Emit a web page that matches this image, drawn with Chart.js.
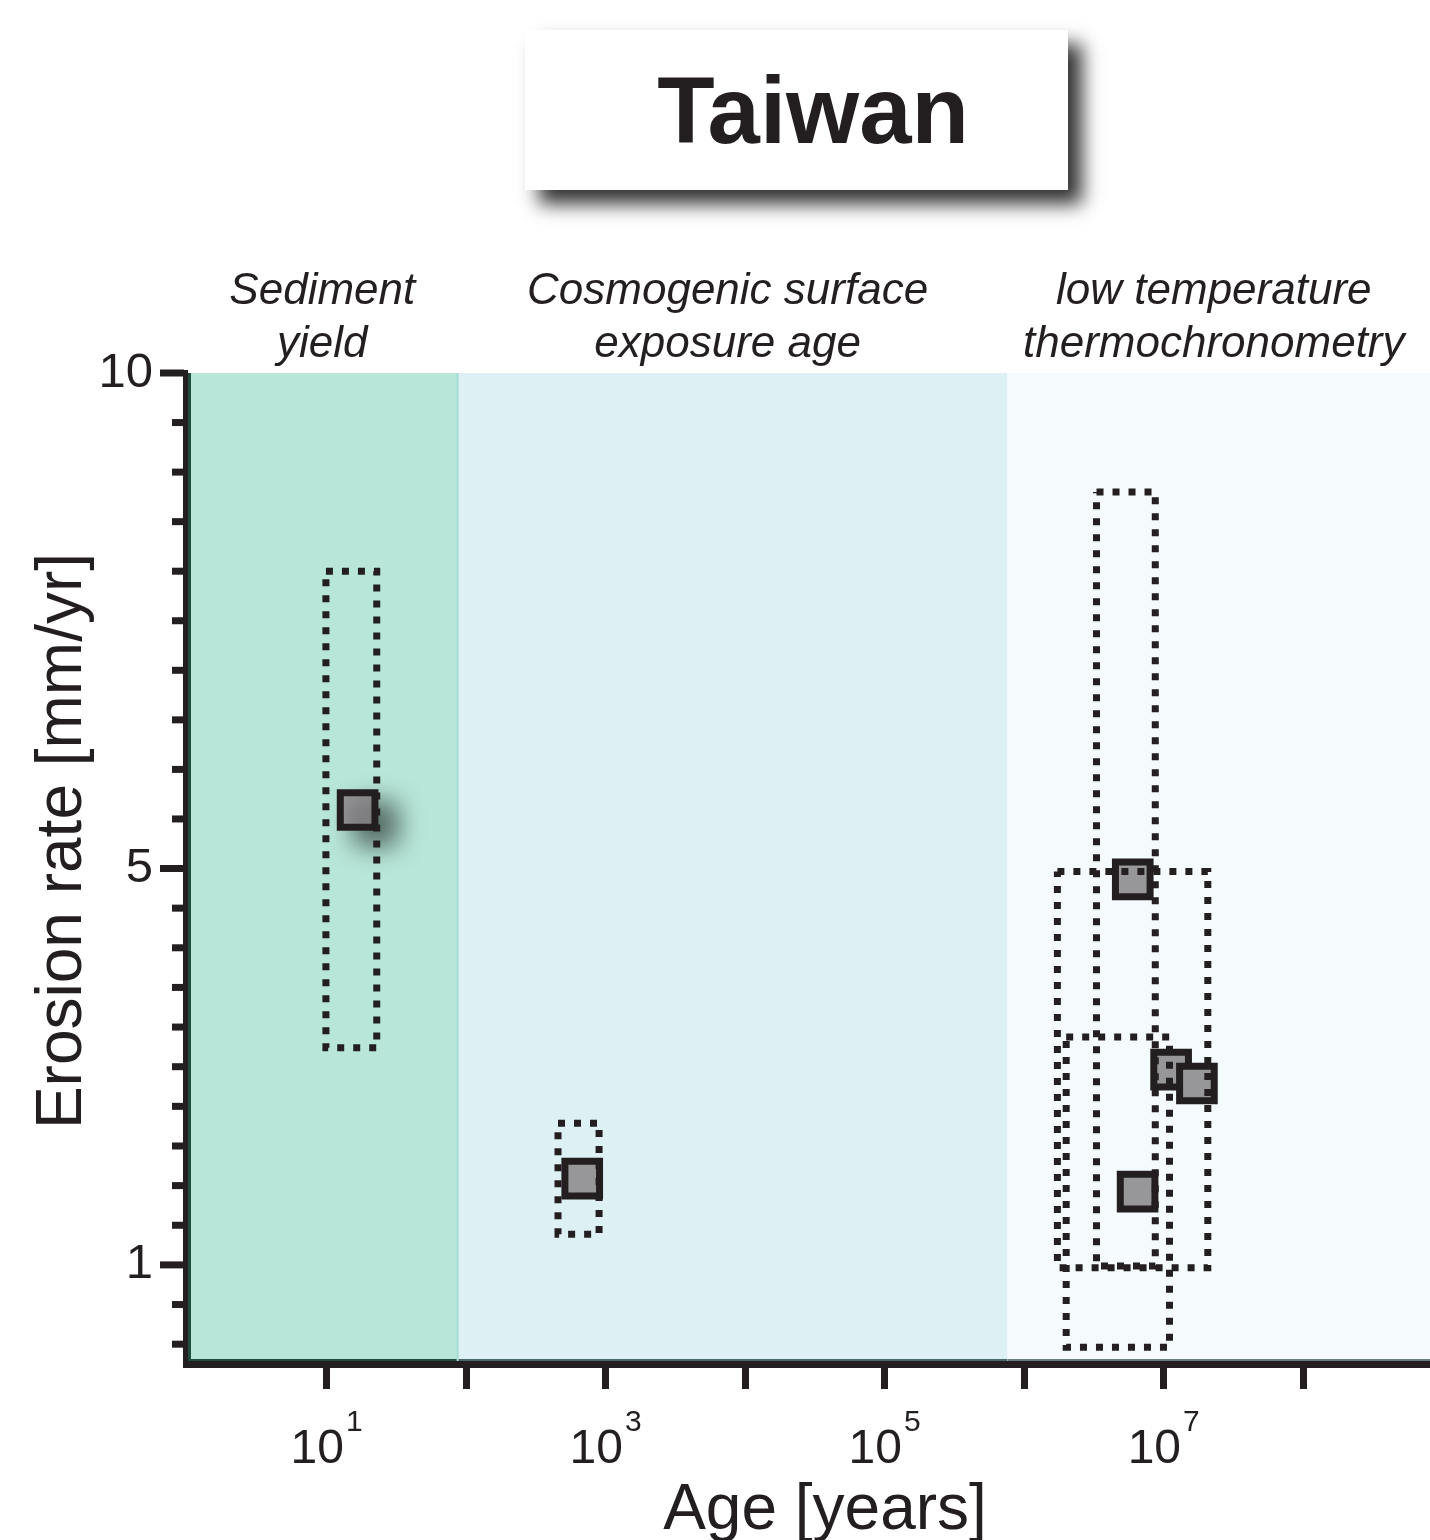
<!DOCTYPE html>
<html>
<head>
<meta charset="utf-8">
<title>Taiwan erosion rates</title>
<script src="https://cdn.jsdelivr.net/npm/chart.js@4.4.1/dist/chart.umd.min.js"></script>
<style>
	html, body { margin: 0; padding: 0; background: #fff; }
	canvas { display: block; }
</style>
</head>
<body>
<canvas id="taiwanChart" width="1430" height="1540"></canvas>
<script>
// measured points (age in years, erosion rate in mm/yr)
const pointAges = [16.7, 680, 6.0e6, 1.13e7, 1.73e7, 6.5e6];
const pointRates = [5.59, 1.87, 4.89, 2.97, 2.83, 1.74];

// dotted uncertainty boxes
const boxAgeMin = [9.9, 456, 3.3e6, 1.73e6, 2.0e6];
const boxAgeMax = [22.9, 898, 8.7e6, 2.07e7, 1.1e7];
const boxRateMin = [3.19, 1.31, 0.99, 0.97, 0.17];
const boxRateMax = [8.0, 2.43, 8.8, 4.97, 3.3];

// method bands along the age axis
const bandEdges = [1, 87, 7.6e5, 8.1e8];
const bandNames = [["Sediment", "yield"], ["Cosmogenic surface", "exposure age"], ["low temperature", "thermochronometry"]];
const bandColors = ["#b8e7d9", "#ddf0f3", "#f5fafd"];
const bandEdgeColors = ["#1e4d3d", "#4a676c", "#6c7d82"];

// ticks
const xTickValues = [10, 1e2, 1e3, 1e4, 1e5, 1e6, 1e7, 1e8];
const xLabelValues = [10, 1e3, 1e5, 1e7];
const xLabelExponents = ["1", "3", "5", "7"];
const yTickValues = [10, 9.5, 9, 8.5, 8, 7.5, 7, 6.5, 6, 5.5, 5, 4.6, 4.2, 3.8, 3.4, 3, 2.6, 2.2, 1.8, 1.4, 1, 0.6, 0.2];
const yTickLabels = { 10: "10", 5: "5", 1: "1" };

const ink = "#231f20";
const family = '"Liberation Sans", Helvetica, Arial, sans-serif';

const boxSets = boxAgeMin.map((a0, i) => {
	const a1 = boxAgeMax[i];
	const r0 = boxRateMin[i];
	const r1 = boxRateMax[i];
	return {
		type: "scatter",
		label: "range " + (i + 1),
		data: [
			{ x: a0, y: r1 },
			{ x: a1, y: r1 },
			{ x: a1, y: r0 },
			{ x: a0, y: r0 },
			{ x: a0, y: r1 },
		],
		showLine: true,
		fill: false,
		tension: 0,
		borderColor: ink,
		borderWidth: 7,
		borderDash: [7, 9],
		borderCapStyle: "butt",
		borderJoinStyle: "miter",
		pointRadius: 0,
		order: 1,
	};
});

const pointStyle = {
	type: "scatter",
	pointStyle: "rect",
	pointRadius: 24.5,
	pointBorderWidth: 7,
	pointBackgroundColor: "#97979a",
	pointBorderColor: ink,
	showLine: false,
};

const pointData = pointAges.map((a, i) => ({ x: a, y: pointRates[i] }));

const datasets = [
	...boxSets,
	{ ...pointStyle, label: "points", data: pointData.slice(1), order: 2 },
	{ ...pointStyle, label: "sediment point", data: pointData.slice(0, 1), order: 3, shadow: true },
];

const backdrop = {
	id: "backdrop",
	beforeDraw(chart) {
		const { ctx, chartArea: a, scales: { x } } = chart;
		ctx.save();
		for (let i = 0; i < bandColors.length; i++) {
			const x0 = i === 0 ? a.left : x.getPixelForValue(bandEdges[i]);
			const x1 = i === bandColors.length - 1 ? a.right : x.getPixelForValue(bandEdges[i + 1]);
			ctx.fillStyle = bandColors[i];
			ctx.fillRect(x0, a.top, x1 - x0, a.bottom - a.top);
			ctx.fillStyle = bandEdgeColors[i];
			ctx.fillRect(x0, a.bottom - 5, x1 - x0, 3);
		}
		// left edge of sediment band and band separator
		ctx.fillStyle = bandEdgeColors[0];
		ctx.fillRect(a.left, a.top, 4, a.bottom - a.top);
		ctx.fillStyle = "#a6dcd4";
		ctx.fillRect(x.getPixelForValue(bandEdges[1]) - 1, a.top, 2, a.bottom - a.top);
		ctx.restore();
	},
};

const shadowPoint = {
	id: "shadowPoint",
	beforeDatasetDraw(chart, args) {
		if (!chart.data.datasets[args.index].shadow) return;
		const ctx = chart.ctx;
		ctx.save();
		ctx.shadowColor = "rgba(0,0,0,0.55)";
		ctx.shadowBlur = 26;
		ctx.shadowOffsetX = 18;
		ctx.shadowOffsetY = 14;
	},
	afterDatasetDraw(chart, args) {
		if (!chart.data.datasets[args.index].shadow) return;
		chart.ctx.restore();
	},
};

const decorations = {
	id: "decorations",
	afterDraw(chart) {
		const { ctx, chartArea: a, scales: { x, y } } = chart;
		ctx.save();

		// y axis line and ticks
		ctx.fillStyle = ink;
		ctx.fillRect(a.left - 4, a.top - 3, 5, a.bottom - a.top + 7);
		y.ticks.forEach((t) => {
			const py = y.getPixelForValue(t.value);
			const len = yTickLabels[t.value] ? 24 : 12;
			ctx.fillRect(a.left - 3 - len, py - 3.5, len, 7);
		});

		// x tick labels with superscripts
		ctx.fillStyle = ink;
		ctx.textBaseline = "alphabetic";
		ctx.textAlign = "left";
		xLabelValues.forEach((v, i) => {
			const px = x.getPixelForValue(v);
			ctx.font = "48px " + family;
			const wb = ctx.measureText("10").width;
			ctx.font = "30px " + family;
			const ws = ctx.measureText(xLabelExponents[i]).width;
			const left = px - (wb + ws + 2) / 2;
			ctx.font = "48px " + family;
			ctx.fillText("10", left, 1463);
			ctx.font = "30px " + family;
			ctx.fillText(xLabelExponents[i], left + wb + 2, 1431);
		});

		// axis titles
		ctx.font = "64px " + family;
		ctx.textAlign = "center";
		ctx.fillText("Age [years]", 825, 1529);
		ctx.save();
		ctx.translate(81, 841);
		ctx.rotate(-Math.PI / 2);
		ctx.fillText("Erosion rate [mm/yr]", 0, 0);
		ctx.restore();

		// band names
		ctx.font = "italic 44px " + family;
		bandNames.forEach((lines, i) => {
			const x0 = i === 0 ? a.left : x.getPixelForValue(bandEdges[i]);
			const x1 = i === bandNames.length - 1 ? a.right : x.getPixelForValue(bandEdges[i + 1]);
			const cx = (x0 + x1) / 2 - (i === 0 ? 0 : 5);
			ctx.fillText(lines[0], cx, 304);
			ctx.fillText(lines[1], cx, 357);
		});

		// title box
		ctx.save();
		ctx.shadowColor = "rgba(0,0,0,0.8)";
		ctx.shadowBlur = 18;
		ctx.shadowOffsetX = 14;
		ctx.shadowOffsetY = 14;
		ctx.fillStyle = "#fff";
		ctx.fillRect(525, 30, 543, 160);
		ctx.restore();
		ctx.fillStyle = ink;
		ctx.font = "bold 94px " + family;
		ctx.fillText("Taiwan", 813, 143);

		ctx.restore();
	},
};

const ctx = document.getElementById("taiwanChart");

new Chart(ctx, {
	type: "scatter",
	data: { datasets },
	options: {
		responsive: false,
		animation: false,
		events: [],
		layout: { autoPadding: false, padding: { top: 373, left: 0, right: 0, bottom: 0 } },
		plugins: {
			legend: { display: false },
			tooltip: { enabled: false },
		},
		scales: {
			x: {
				type: "logarithmic",
				position: "bottom",
				min: 1,
				max: 8.1e8,
				afterBuildTicks: (s) => {
					s.ticks = xTickValues.map((v) => ({ value: v }));
				},
				afterFit: (s) => {
					s.height = 176;
				},
				ticks: { display: false },
				grid: {
					display: true,
					drawOnChartArea: false,
					drawTicks: true,
					tickLength: 25,
					tickWidth: 7,
					tickColor: ink,
				},
				border: { display: true, width: 7, color: ink },
			},
			y: {
				type: "linear",
				position: "left",
				min: 0,
				max: 10,
				afterBuildTicks: (s) => {
					s.ticks = yTickValues.map((v) => ({ value: v }));
				},
				afterFit: (s) => {
					s.width = 187;
				},
				ticks: {
					autoSkip: false,
					padding: 34,
					color: ink,
					font: { family, size: 49 },
					callback: (v) => yTickLabels[v] || "",
				},
				grid: { display: false, drawTicks: false },
				border: { display: false },
			},
		},
	},
	plugins: [backdrop, shadowPoint, decorations],
});
</script>
</body>
</html>
